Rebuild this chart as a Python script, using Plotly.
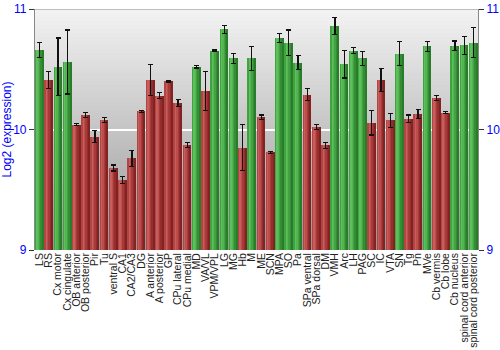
import plotly.graph_objects as go

regions = ["LS", "RS", "Cx motor", "Cx cingulate", "OB anterior", "OB posterior", "Pir", "Tu",
           "ventral S", "CA1", "CA2/CA3", "DG", "A anterior", "A posterior", "GP", "CPu lateral",
           "CPu medial", "MD", "VA/VL", "VPM/VPL", "LG", "MG", "Hb", "M", "ME", "SCN", "MPA",
           "SO", "Pa", "SPa ventral", "SPa dorsal", "DM", "VMH", "Arc", "LH", "PAG", "SC", "IC",
           "VTA", "SN", "Tg", "Pn", "MVe", "Cb vermis", "Cb lobe", "Cb nucleus",
           "spinal cord anterior", "spinal cord posterior"]

expression = [10.66, 10.41, 10.52, 10.56, 10.04, 10.12, 9.94, 10.08,
              9.68, 9.58, 9.76, 10.15, 10.41, 10.28, 10.40, 10.22,
              9.87, 10.52, 10.32, 10.655, 10.83, 10.59, 9.85, 10.59, 10.10, 9.81, 10.76,
              10.72, 10.555, 10.29, 10.02, 9.87, 10.86, 10.54, 10.655, 10.59, 10.055, 10.41,
              10.075, 10.63, 10.09, 10.13, 10.69, 10.26, 10.14, 10.695,
              10.70, 10.72]

error = [0.06, 0.07, 0.24, 0.265, 0.01, 0.02, 0.05, 0.02,
         0.025, 0.03, 0.065, 0.01, 0.13, 0.025, 0.005, 0.03,
         0.02, 0.01, 0.16, 0.005, 0.033, 0.04, 0.19, 0.10, 0.02, 0.01, 0.04,
         0.105, 0.06, 0.05, 0.02, 0.025, 0.07, 0.113, 0.026, 0.06, 0.10, 0.097,
         0.06, 0.10, 0.03, 0.037, 0.04, 0.02, 0.01, 0.04,
         0.075, 0.125]

# high = green, low = red
is_high = [1, 0, 1, 1, 0, 0, 0, 0,
           0, 0, 0, 0, 0, 0, 0, 0,
           0, 1, 0, 1, 1, 1, 0, 1, 0, 0, 1,
           1, 1, 0, 0, 0, 1, 1, 1, 1, 0, 0,
           0, 1, 0, 0, 1, 0, 0, 1,
           1, 1]

y_ticks = [9, 10, 11]

green_strips = ["#40a340", "#5cc05c", "#52b552", "#43a243", "#358e35", "#297d29"]
red_strips = ["#b34444", "#c75e5e", "#bb4d4d", "#a83a3a", "#952d2d", "#822323"]

bar_w = 0.88
n = len(green_strips)
strip_w = bar_w / n

fig = go.Figure()

# horizontal shading of each bar, built from narrow overlaid strips
for i in range(n):
    colors = [green_strips[i] if h else red_strips[i] for h in is_high]
    w = strip_w * 1.15 if i < n - 1 else strip_w
    fig.add_trace(go.Bar(
        x=regions, y=[v - 9 for v in expression], base=9,
        width=w, offset=-bar_w / 2 + i * strip_w,
        marker=dict(color=colors, line=dict(width=0)),
        showlegend=False, hoverinfo="skip"))

# error bars on a transparent full-width bar
fig.add_trace(go.Bar(
    x=regions, y=[v - 9 for v in expression], base=9,
    width=bar_w, offset=-bar_w / 2,
    marker=dict(color="rgba(0,0,0,0)", line=dict(width=0)),
    error_y=dict(type="data", array=error, color="#111111", thickness=1.2, width=2.5),
    showlegend=False))

# invisible trace so the right-hand axis is drawn
fig.add_trace(go.Scatter(x=[regions[0]], y=[10], yaxis="y2", mode="markers",
                         marker=dict(opacity=0), showlegend=False, hoverinfo="skip"))

# vertical grey gradient behind the plot area (bands overlap to avoid seams)
steps = 60
top_c, bot_c = (243, 243, 243), (150, 150, 150)
band = 2 / steps
shapes = []
for k in range(steps):
    t = (k + 0.5) / steps
    c = tuple(round(top_c[j] + (bot_c[j] - top_c[j]) * t) for j in range(3))
    y1 = 11 - band * k
    y0 = max(9, 11 - band * (k + 2))
    shapes.append(dict(type="rect", xref="paper", yref="y", x0=0, x1=1, y0=y0, y1=y1,
                       fillcolor="rgb(%d,%d,%d)" % c, line=dict(width=0), layer="below"))
shapes.append(dict(type="line", xref="paper", yref="y", x0=0, x1=1, y0=11, y1=11,
                   line=dict(color="#888888", width=1.2)))

fig.update_layout(
    width=500, height=350,
    margin=dict(l=35, r=22, t=9, b=100),
    paper_bgcolor="white", plot_bgcolor="rgba(0,0,0,0)",
    barmode="overlay", bargap=0,
    shapes=shapes,
    font=dict(family="Liberation Sans, Arial, sans-serif"),
    xaxis=dict(type="category", tickangle=-90, tickfont=dict(size=10.5, color="#222222"),
               tickmode="array", tickvals=regions, ticktext=regions, automargin=False,
               showgrid=False, ticks="", showline=False, zeroline=False,
               range=[-0.5, len(regions) - 0.5]),
    yaxis=dict(range=[9, 11], tickvals=y_ticks, ticktext=[str(t) for t in y_ticks],
               tickfont=dict(size=12, color="#0000ff"), ticks="outside", ticklen=5,
               tickcolor="#333333", showline=True, linecolor="#888888", linewidth=1.2,
               showgrid=True, gridcolor="white", gridwidth=1.5, zeroline=False,
               automargin=False,
               title=dict(text="Log2 (expression)", font=dict(size=12, color="#0000ff"),
                          standoff=4)),
    yaxis2=dict(range=[9, 11], tickvals=y_ticks, overlaying="y", side="right",
                tickfont=dict(size=12, color="#0000ff"), ticks="outside", ticklen=5,
                tickcolor="#333333", showline=True, linecolor="#888888", linewidth=1.2,
                showgrid=False, zeroline=False, automargin=False),
)

fig.write_html("out.html")
